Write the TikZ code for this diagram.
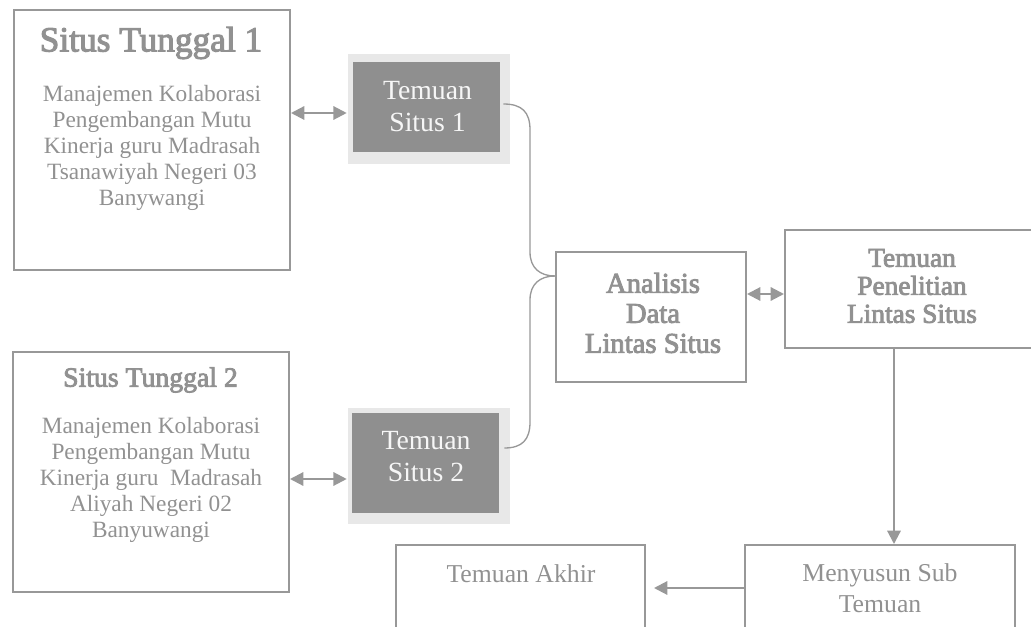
\documentclass[tikz,border=0pt]{standalone}
\usepackage{fontspec}
\setmainfont{Liberation Serif}
\newfontfamily\semibold[FakeBold=3]{Liberation Serif}
\usetikzlibrary{arrows.meta,calc}

\definecolor{edge}{RGB}{152,152,152}
\definecolor{ink}{RGB}{145,145,145}
\definecolor{darkfill}{RGB}{143,143,143}
\definecolor{paleink}{RGB}{246,246,246}
\definecolor{shade}{RGB}{232,232,232}

\begin{document}
\begin{tikzpicture}[x=0.75pt,y=-0.75pt,
  frame/.style={draw=edge, line width=1.5pt, inner sep=0pt},
  darkbox/.style={fill=darkfill, draw=none, inner sep=0pt},
  shadowbox/.style={fill=shade, draw=none, inner sep=0pt},
  bodytxt/.style={text=ink, align=center, inner sep=0pt,
    font=\fontsize{17.5}{19.5}\selectfont},
  headtxt/.style={text=ink, align=center, inner sep=0pt},
  whitetxt/.style={text=paleink, align=center, inner sep=0pt,
    font=\fontsize{20.8}{24}\selectfont},
  twoway/.style={draw=edge, line width=1.6pt,
    {Triangle[length=10pt,width=10pt]}-{Triangle[length=10pt,width=10pt]}},
  oneway/.style={draw=edge, line width=1.6pt,
    -{Triangle[length=10pt,width=10pt]}},
  bracket/.style={draw=edge, line width=1pt}
]
\useasboundingbox (0,0) rectangle (1031,627);

% site boxes
\node[frame, minimum width=207pt, minimum height=195pt] (ST1) at (152,140) {};
\node[frame, minimum width=207pt, minimum height=180pt] (ST2) at (151,472) {};

\node[headtxt, font=\semibold\fontsize{26.5}{28}\selectfont] (ST1t) at (151,43) {Situs Tunggal 1};
\node[bodytxt] (ST1b) at (152,148) {Manajemen Kolaborasi\\Pengembangan Mutu\\Kinerja guru Madrasah\\Tsanawiyah Negeri 03\\Banywangi};

\node[headtxt, font=\semibold\fontsize{20.8}{22}\selectfont] (ST2t) at (150.5,380) {Situs Tunggal 2};
\node[bodytxt] (ST2b) at (151,480) {Manajemen Kolaborasi\\Pengembangan Mutu\\Kinerja guru~ Madrasah\\Aliyah Negeri 02\\Banyuwangi};

% findings per site
\node[shadowbox, minimum width=121.5pt, minimum height=82.5pt] (T1s) at (429,109) {};
\node[darkbox, minimum width=110.25pt, minimum height=67.5pt] (T1) at (426.5,107) {};
\node[whitetxt] (T1t) at (427.5,107) {Temuan\\Situs 1};

\node[shadowbox, minimum width=121.5pt, minimum height=87pt] (T2s) at (429,466) {};
\node[darkbox, minimum width=110.25pt, minimum height=75pt] (T2) at (425.5,463) {};
\node[whitetxt] (T2t) at (426,457) {Temuan\\Situs 2};

% cross-site analysis
\node[frame, minimum width=142.5pt, minimum height=97.5pt] (ANA) at (651,317) {};
\node[headtxt, font=\semibold\fontsize{21.5}{22.5}\selectfont] (ANAt) at (653,313) {Analisis\\Data\\Lintas Situs};

\node[frame, minimum width=191.25pt, minimum height=88.5pt] (TPL) at (912.5,289) {};
\node[headtxt, font=\semibold\fontsize{20.5}{21}\selectfont] (TPLt) at (912,286) {Temuan\\Penelitian\\Lintas Situs};

% final steps
\node[frame, minimum width=202.5pt, minimum height=78.75pt] (MS) at (880,597.5) {};
\node[bodytxt, font=\fontsize{19.3}{23.25}\selectfont] (MSt) at (880,588) {Menyusun Sub\\Temuan};

\node[frame, minimum width=186.75pt, minimum height=78.75pt] (TA) at (520.5,597.5) {};
\node[bodytxt, font=\fontsize{19.3}{23.25}\selectfont] (TAt) at (521,574) {Temuan Akhir};

% connectors
\draw[twoway] ($(ST1.east |- T1.west)+(0,6)$) -- ($(T1s.west |- T1.west)+(-1,6)$);
\draw[twoway] ($(ST2.east |- T2.west)+(0,16)$) -- ($(T2s.west |- T2.west)+(-1,16)$);
\draw[twoway] ($(ANA.east |- TPL.west)+(0,5)$) -- ($(TPL.west)+(0,5)$);

\coordinate (apex) at ($(ANA.west)+(0,-41)$);
\draw[bracket] ($(T1.east)+(3,-3)$) .. controls (522,104) and (530,112) .. (530,130)
  -- (530,252) .. controls (530,268) and (540,276) .. (apex);
\draw[bracket] (apex) .. controls (540,276) and (530,284) .. (530,300)
  -- (530,422) .. controls (530,440) and (522,448) .. ($(T2.east)+(5,-15)$);

\coordinate (drop) at ($(TPL.south)+(-18.5,0)$);
\draw[oneway] (drop) -- (drop |- MS.north);
\draw[oneway, shorten >=6pt] ($(MS.west)+(0,-9.5)$) -- ($(TA.east)+(0,-9.5)$);
\end{tikzpicture}
\end{document}
